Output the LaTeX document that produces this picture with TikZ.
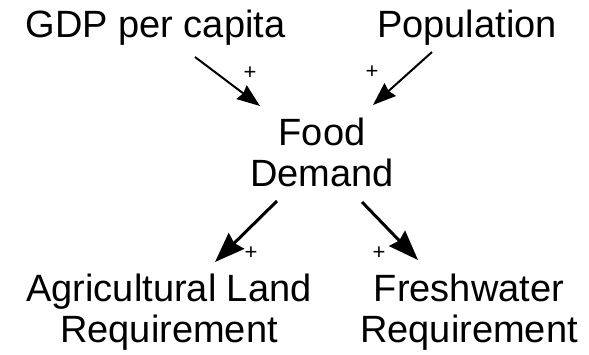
\documentclass[tikz,border=0pt]{standalone}
\usepackage{fontspec}
\setmainfont{Liberation Sans}
\usetikzlibrary{arrows.meta}
\begin{document}
\begin{tikzpicture}[x=1pt,y=-1pt,
  lbl/.style={inner sep=0pt,align=center,anchor=base,font=\fontsize{38}{41}\selectfont},
  pol/.style={inner sep=0pt,font=\fontsize{22}{22}\selectfont},
  link/.style={draw=black,line width=2pt,-{Stealth[length=23pt,width=17pt,inset=2pt]}},
  linkb/.style={draw=black,line width=3pt,-{Stealth[length=30pt,width=22pt,inset=3pt]}}]
\useasboundingbox (0,0) rectangle (589,354);
\node[lbl] (gdp) at (155.5,37) {GDP per capita};
\node[lbl] (pop) at (467,37) {Population};
\node[lbl] (food) at (322,186) {Food\\Demand};
\node[lbl] (agri) at (169,342) {Agricultural Land\\Requirement};
\node[lbl] (fresh) at (469,342) {Freshwater\\Requirement};
\coordinate (g1) at (195,57); \coordinate (f1) at (260,106);
\coordinate (p1) at (432,52); \coordinate (f2) at (373,105);
\coordinate (f3) at (277,201); \coordinate (a1) at (215,262);
\coordinate (f4) at (362,202); \coordinate (r1) at (418,260);
\draw[link] (g1) -- (f1);
\draw[link] (p1) -- (f2);
\draw[linkb] (f3) -- (a1);
\draw[linkb] (f4) -- (r1);
\node[pol] (s1) at (250,73) {+};
\node[pol] (s2) at (372,72) {+};
\node[pol] (s3) at (251,253) {+};
\node[pol] (s4) at (379,253) {+};
\end{tikzpicture}
\end{document}
